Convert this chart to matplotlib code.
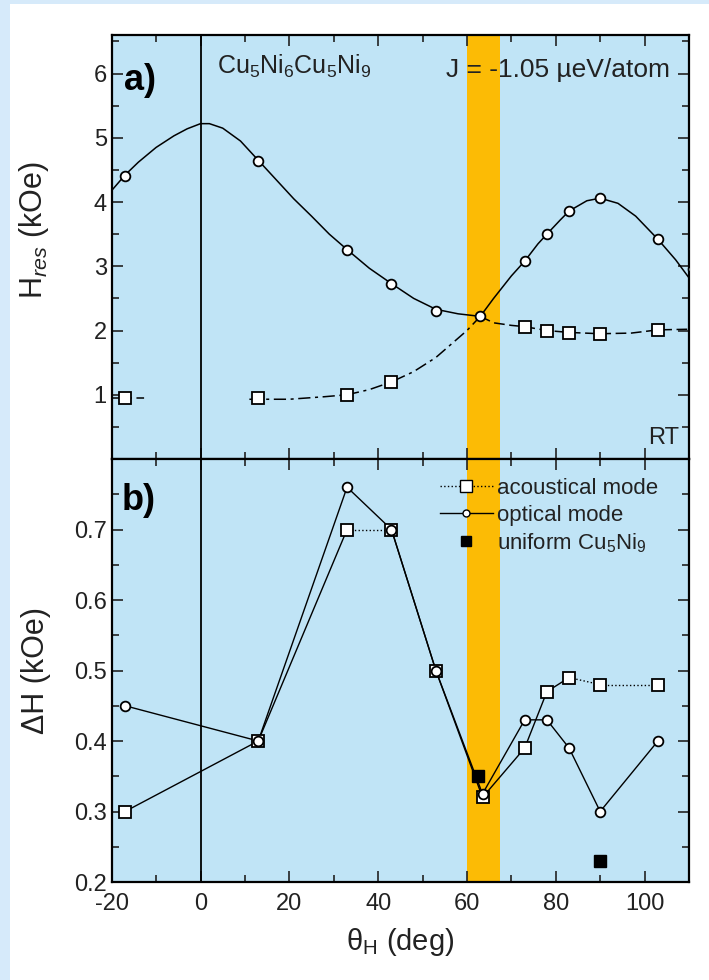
import numpy as np
import matplotlib.pyplot as plt
from matplotlib.patches import Rectangle
from matplotlib.lines import Line2D
from matplotlib.ticker import MultipleLocator

plt.rcParams['font.family'] = ['Liberation Sans', 'DejaVu Sans']
plt.rcParams['mathtext.fontset'] = 'custom'
plt.rcParams['mathtext.rm'] = 'Liberation Sans'
plt.rcParams['mathtext.it'] = 'Liberation Sans:italic'
plt.rcParams['axes.unicode_minus'] = False

# ===============================
# Panel a) resonance field H_res (kOe)
# ===============================
circ_a_x = [-17, 13, 33, 43, 53, 63, 73, 78, 83, 90, 103, 110.8]
circ_a_y = [4.41, 4.64, 3.26, 2.73, 2.31, 2.23, 3.08, 3.50, 3.86, 4.06, 3.42, 2.95]
sq_a_x = [-17, 13, 33, 43, 73, 78, 83, 90, 103]
sq_a_y = [0.95, 0.95, 1.00, 1.20, 2.06, 2.00, 1.96, 1.95, 2.01]

# fitted curves
up_x = [-20, -17, -14, -10, -6, -3, 0, 2, 5, 9, 13, 17, 21, 25, 29, 33, 38, 43, 48, 53, 58, 63]
up_y = [4.18, 4.42, 4.62, 4.85, 5.03, 5.14, 5.22, 5.22, 5.15, 4.95, 4.65, 4.35, 4.05, 3.78,
        3.50, 3.26, 2.97, 2.73, 2.50, 2.33, 2.26, 2.22]
flat_x = [63, 66, 70, 73, 78, 83, 90, 97, 103, 110]
flat_y = [2.22, 2.12, 2.08, 2.06, 2.00, 1.97, 1.95, 1.96, 2.01, 2.02]
low_x = [11, 13, 20, 28, 33, 38, 43, 48, 53, 57, 60, 63]
low_y = [0.93, 0.93, 0.93, 0.97, 1.00, 1.08, 1.20, 1.36, 1.58, 1.82, 2.00, 2.22]
rise_x = [63, 66, 70, 73, 76, 78, 81, 83, 87, 90, 94, 98, 103, 107, 110]
rise_y = [2.22, 2.50, 2.85, 3.08, 3.35, 3.50, 3.72, 3.86, 4.02, 4.06, 3.98, 3.78, 3.42, 3.10, 2.82]
stub_x = [-20, -12]
stub_y = [0.95, 0.95]

# ===============================
# Panel b) linewidth dH (kOe)
# ===============================
ac_x = [-17, 13, 33, 43, 53, 63.5, 73, 78, 83, 90, 103]
ac_y = [0.30, 0.40, 0.70, 0.70, 0.50, 0.32, 0.39, 0.47, 0.49, 0.48, 0.48]
ac_dotted = [2, 8, 9]          # segment i -> i+1 drawn dotted
op_x = [-17, 13, 33, 43, 53, 63.5, 73, 78, 83, 90, 103]
op_y = [0.45, 0.40, 0.76, 0.70, 0.50, 0.325, 0.43, 0.43, 0.39, 0.30, 0.40]
uni_x = [62.5, 90]
uni_y = [0.35, 0.23]

band = (60, 67.5)
axbg = '#c0e4f6'
orange = '#fcbb05'
strip = '#d6eafa'
ink = '#222222'

fig = plt.figure(figsize=(7.09, 9.8), dpi=100, facecolor='white')
# light blue page edge (left and top)
fig.patches.append(Rectangle((0, 0), 10/709, 1, transform=fig.transFigure,
                             facecolor=strip, edgecolor='none'))
fig.patches.append(Rectangle((0, 1 - 4/980), 1, 4/980, transform=fig.transFigure,
                             facecolor=strip, edgecolor='none'))

L, R = 111.7/709, 689/709
ax_a = fig.add_axes([L, 1 - 459/980, R - L, (459 - 35)/980])
ax_b = fig.add_axes([L, 1 - 882/980, R - L, (882 - 459)/980])

for ax in (ax_a, ax_b):
    ax.set_facecolor(axbg)
    ax.axvspan(*band, color=orange, lw=0, zorder=1)
    ax.axvline(0, color='black', lw=1.3, zorder=2)
    ax.set_xlim(-20, 110)
    ax.xaxis.set_major_locator(MultipleLocator(20))
    ax.xaxis.set_minor_locator(MultipleLocator(10))
    ax.tick_params(which='both', direction='in', top=True, right=True, width=1.2,
                   labelsize=17, colors=ink)
    ax.tick_params(which='major', length=8)
    ax.tick_params(which='minor', length=5)
    ax.tick_params(axis='x', pad=8)
    for sp in ax.spines.values():
        sp.set_linewidth(1.6)

ms_sq, ms_c = 8, 7
kw_sq = dict(marker='s', ms=ms_sq, mfc='white', mec='black', mew=1.3, ls='none', zorder=5)
kw_c = dict(marker='o', ms=ms_c, mfc='white', mec='black', mew=1.3, ls='none', zorder=6)

# --- panel a ---
ax_a.plot(up_x, up_y, color='black', lw=1.1, zorder=3)
ax_a.plot(flat_x, flat_y, color='black', lw=1.1, ls=(0, (7, 3)), zorder=3)
ax_a.plot(low_x, low_y, color='black', lw=1.1, ls=(0, (8, 3, 2, 3)), zorder=3)
ax_a.plot(rise_x, rise_y, color='black', lw=1.1, zorder=3)
ax_a.plot(stub_x, stub_y, color='black', lw=1.1, ls=(0, (5, 3)), zorder=3)
ax_a.plot(sq_a_x, sq_a_y, **kw_sq)
ax_a.plot(circ_a_x, circ_a_y, **kw_c)

ax_a.set_ylim(0, 6.6)
ax_a.yaxis.set_minor_locator(MultipleLocator(0.5))
ax_a.set_yticks([1, 2, 3, 4, 5, 6])
ax_a.tick_params(labelbottom=False)
ax_a.set_ylabel(r'H$_{res}$ (kOe)', fontsize=22, color=ink)
ax_a.yaxis.set_label_coords(-0.105, 0.54)

ax_a.text(0.022, 0.893, 'a)', transform=ax_a.transAxes, fontsize=26, fontweight='bold',
          va='center', ha='left')
ax_a.text(0.182, 0.925, r'Cu$_5$Ni$_6$Cu$_5$Ni$_9$', transform=ax_a.transAxes, fontsize=18,
          va='center', ha='left', color=ink)
ax_a.text(0.967, 0.917, 'J = -1.05 µeV/atom', transform=ax_a.transAxes, fontsize=19,
          va='center', ha='right', color=ink, zorder=7)
ax_a.text(0.983, 0.05, 'RT', transform=ax_a.transAxes, fontsize=17,
          va='center', ha='right', color=ink)

# --- panel b ---
for i in range(len(ac_x) - 1):
    ls = ':' if i in ac_dotted else '-'
    ax_b.plot(ac_x[i:i + 2], ac_y[i:i + 2], color='black', lw=1.0, ls=ls, zorder=3)
ax_b.plot(op_x, op_y, color='black', lw=1.0, zorder=3)
ax_b.plot(op_x, op_y, **kw_c)
ax_b.plot(ac_x, ac_y, **kw_sq)
ax_b.plot(uni_x, uni_y, marker='s', ms=ms_sq, color='black', ls='none', zorder=7)

ax_b.set_ylim(0.2, 0.8)
ax_b.set_yticks([0.2, 0.3, 0.4, 0.5, 0.6, 0.7])
ax_b.yaxis.set_minor_locator(MultipleLocator(0.05))
ax_b.set_xticks([-20, 0, 20, 40, 60, 80, 100])
ax_b.set_ylabel('ΔH (kOe)', fontsize=22, color=ink)
ax_b.yaxis.set_label_coords(-0.105, 0.5)
ax_b.set_xlabel(r'θ$_\mathrm{H}$ (deg)', fontsize=21, color=ink, labelpad=8)

ax_b.text(0.018, 0.903, 'b)', transform=ax_b.transAxes, fontsize=26, fontweight='bold',
          va='center', ha='left')

handles = [
    Line2D([], [], color='black', lw=1.0, ls=':', marker='s', ms=ms_sq, mfc='white', mec='black'),
    Line2D([], [], color='black', lw=1.0, ls='-', marker='o', ms=5, mfc='white', mec='black'),
    Line2D([], [], color='black', ls='none', marker='s', ms=ms_sq - 1),
]
labels = ['acoustical mode', 'optical mode', r'uniform Cu$_5$Ni$_9$']
leg = ax_b.legend(handles, labels, loc='upper left', bbox_to_anchor=(0.568, 0.955),
                  frameon=False, fontsize=16, numpoints=1, handlelength=2.4,
                  handletextpad=0.2, labelspacing=0.25, borderpad=0, borderaxespad=0)
leg.set_zorder(8)
for t in leg.get_texts():
    t.set_color(ink)

fig.savefig('out.png', dpi=100, facecolor=fig.get_facecolor())
